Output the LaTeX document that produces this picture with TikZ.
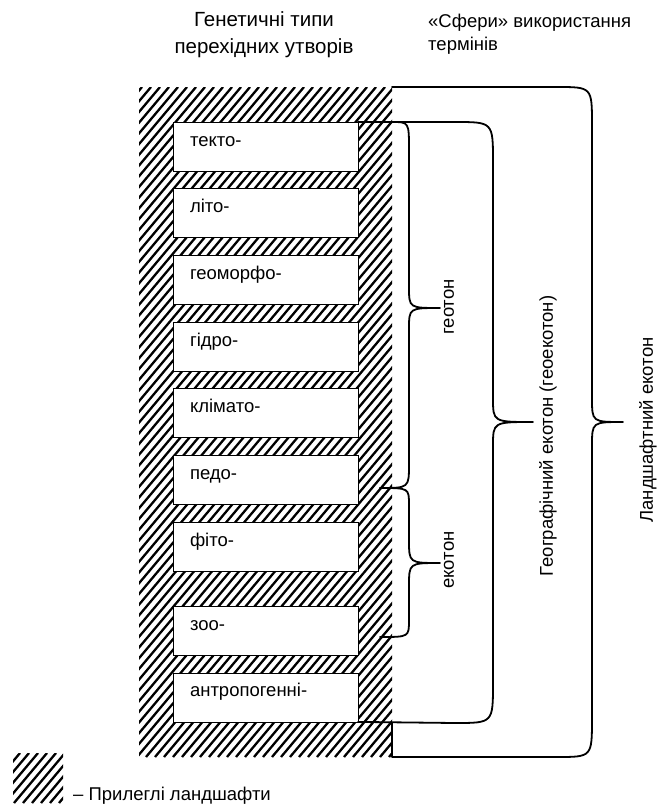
\documentclass[tikz,border=0pt]{standalone}
\usepackage{fontspec}
\setmainfont{Liberation Sans}
\usetikzlibrary{positioning}

\begin{document}
\begin{tikzpicture}[x=1pt, y=-1pt, every node/.style={font=\fontsize{18.5}{22}\selectfont}]

    % Define styles
    \tikzstyle{typebox} = [rectangle, draw=black, line width=0.8pt, fill=white, minimum width=185pt, minimum height=49pt, text width=151pt, inner xsep=17pt, inner ysep=0pt, outer sep=0pt, align=left, text height=11pt, text depth=12pt]
    \tikzstyle{hatchline} = [line width=2.3pt]
    \tikzstyle{brace} = [line width=1.8pt, line join=round, line cap=round]
    \tikzstyle{vlabel} = [rotate=90, inner sep=0pt]

    \useasboundingbox (0,0) rectangle (658,809);

    % Adjacent landscapes (hatched column)
    \begin{scope}
        \clip (139,87) rectangle (392,757);
        \foreach \x in {-430,-421,...,392}
            \draw[hatchline] (\x,757) -- ++(563,-670);
    \end{scope}

    % Genetic types
    \node (tekto) [typebox] at (265.5,146.5) {текто-};
    \node (lito) [typebox, below=17.7pt of tekto] {літо-};
    \node (geomorpho) [typebox, below=17.7pt of lito] {геоморфо-};
    \node (hydro) [typebox, below=17.7pt of geomorpho] {гідро-};
    \node (climato) [typebox, below=17.7pt of hydro] {клімато-};
    \node (pedo) [typebox, below=17.7pt of climato] {педо-};
    \node (phyto) [typebox, below=17.7pt of pedo] {фіто-};
    \node (zoo) [typebox, below=35pt of phyto] {зоо-};
    \node (anthropo) [typebox, below=17.7pt of zoo] {антропогенні-};

    % Headers
    \node (headtypes) [anchor=north, align=center, inner sep=0pt, font=\fontsize{20.5}{27}\selectfont] at (264,11) {Генетичні типи\\перехідних утворів};
    \node (headspheres) [anchor=north west, align=left, inner sep=0pt, font=\fontsize{18.5}{23}\selectfont] at (428,14) {«Сфери» використання\\термінів};

    % Braces
    \coordinate (geotonTop) at (392,122);
    \coordinate (ecoSplit) at (380,488);
    \coordinate (ecotonBot) at (380,637);
    \draw[brace] (geotonTop) .. controls (409,122) .. (409,150) -- (409,287)
        .. controls (409,308) .. (440,308) .. controls (409,308) .. (409,329)
        -- (409,464) .. controls (409,488) .. (ecoSplit);
    \draw[brace] (ecoSplit) .. controls (409,488) .. (409,505) -- (409,540)
        .. controls (409,563) .. (440,563) .. controls (409,563) .. (409,586)
        -- (409,620) .. controls (409,637) .. (ecotonBot);
    \draw[brace] (tekto.north east) -- (455,122) .. controls (493,122) .. (493,162) -- (493,398)
        .. controls (493,422) .. (533,422) .. controls (493,422) .. (493,446)
        -- (493,683) .. controls (493,723) .. (455,723) -- (anthropo.south east);
    \draw[brace] (392,723) -- (392,757) -- (557,757) .. controls (592,757) .. (592,718) -- (592,446)
        .. controls (592,422) .. (623,422) .. controls (592,422) .. (592,398)
        -- (592,125) .. controls (592,87) .. (557,87) -- (392,87);

    % Brace labels
    \node (geoton) [vlabel] at (449,307) {геотон};
    \node (ecoton) [vlabel] at (449,560) {екотон};
    \node (geoecoton) [vlabel] at (548,436) {Географічний екотон (геоекотон)};
    \node (landecoton) [vlabel] at (648,430) {Ландшафтний екотон};

    % Legend
    \begin{scope}
        \clip (13,753) rectangle (63,803);
        \foreach \x in {-40,-31,...,63}
            \draw[hatchline] (\x,803) -- ++(42,-50);
    \end{scope}
    \node (legendtext) [anchor=base west, inner sep=0pt] at (73,800) {– Прилеглі ландшафти};

\end{tikzpicture}
\end{document}
